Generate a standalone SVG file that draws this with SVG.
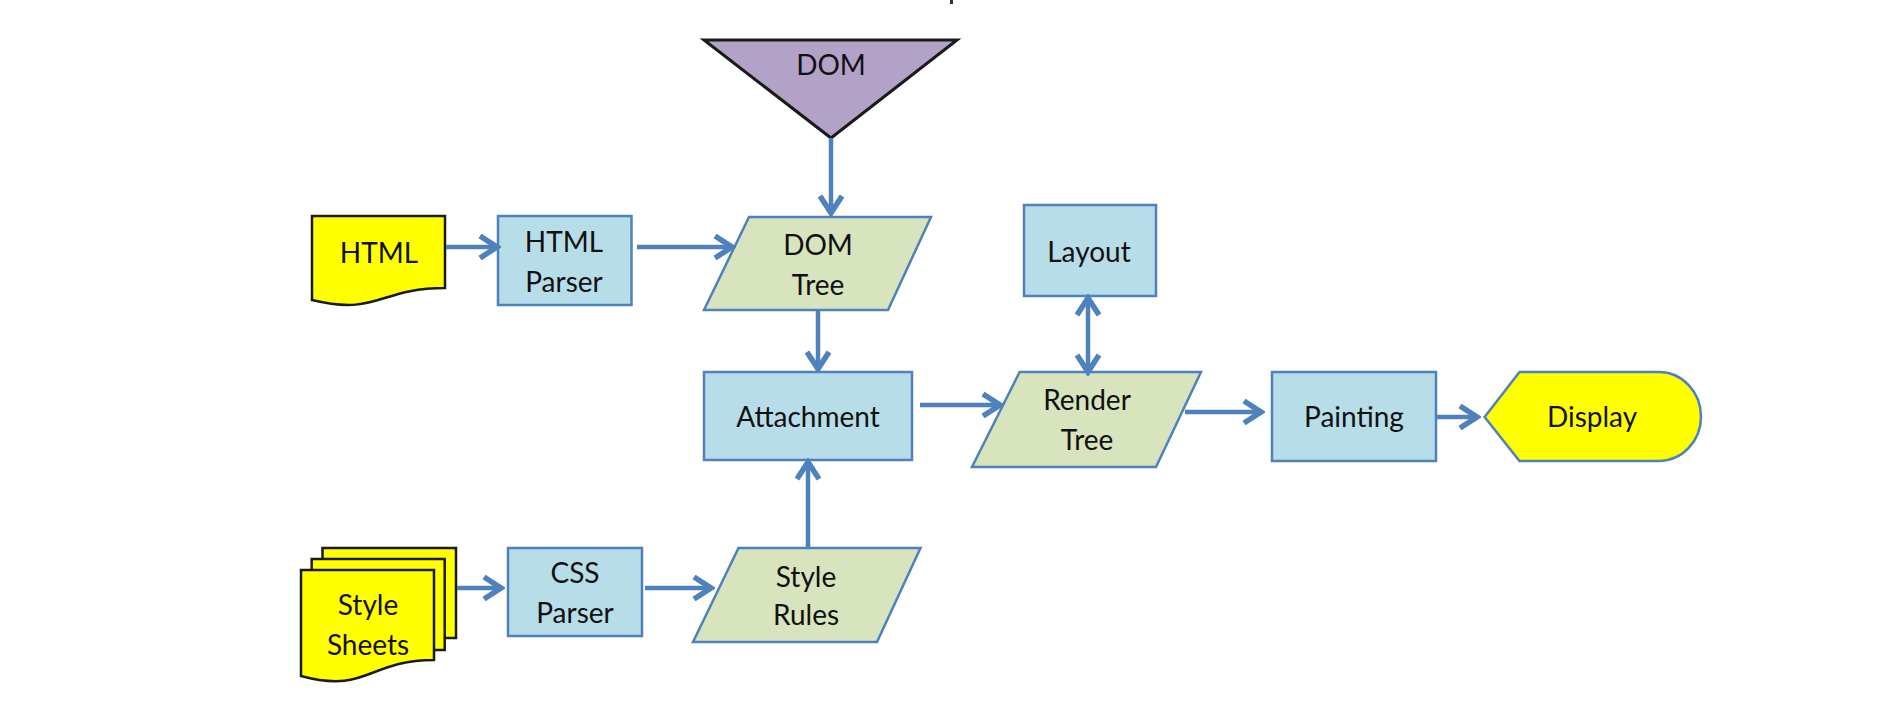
<svg xmlns="http://www.w3.org/2000/svg" width="1904" height="714" viewBox="0 0 1904 714">
<style>
.blue{fill:#b7dde8;stroke:#4f81bd;stroke-width:2.5}
.green{fill:#d7e4bd;stroke:#4f81bd;stroke-width:2.5}
.yellow{fill:#ffff00;stroke:#1a1a1a;stroke-width:2.5}
.yellowb{fill:#ffff00;stroke:#4f81bd;stroke-width:2.5}
.purple{fill:#b3a2c7;stroke:#1a1a1a;stroke-width:3}
.lbl{font-family:Lato,"Open Sans","Liberation Sans",sans-serif;font-size:28px;fill:#111111;text-anchor:middle}
.conn{fill:none;stroke:#4f81bd;stroke-width:4.5}
</style>
<defs>
<marker id="ah" viewBox="0 0 26 26" refX="22" refY="13" markerWidth="26" markerHeight="26" markerUnits="userSpaceOnUse" orient="auto-start-reverse">
<path d="M5,2 L22,13 L5,24" fill="none" stroke="#4f81bd" stroke-width="5.5" stroke-linejoin="miter"/>
</marker>
</defs>
<rect width="1904" height="714" fill="#ffffff"/>
<rect x="950" y="0" width="3" height="4" fill="#333333"/>

<g id="dom">
<path class="purple" d="M704,40 L957,40 L831,138 Z"/>
<text class="lbl" x="831" y="75">DOM</text>
</g>
<g id="html">
<path class="yellow" d="M312,216 H445 V288 C378.5,288 378.5,316 312,300 Z"/>
<text class="lbl" x="379" y="263">HTML</text>
</g>
<g id="html-parser">
<rect class="blue" x="498" y="216" width="133.5" height="89"/>
<text class="lbl" x="564" y="252">HTML</text>
<text class="lbl" x="564" y="292">Parser</text>
</g>
<g id="dom-tree">
<path class="green" d="M749,217 L931,217 L888,310 L704,310 Z"/>
<text class="lbl" x="818" y="255">DOM</text>
<text class="lbl" x="818" y="295">Tree</text>
</g>
<g id="attachment">
<rect class="blue" x="704" y="372" width="208" height="88"/>
<text class="lbl" x="808" y="427">Attachment</text>
</g>
<g id="style-sheets">
<rect class="yellow" x="322.5" y="548" width="133.5" height="90"/>
<rect class="yellow" x="311.7" y="559" width="133" height="91"/>
<path class="yellow" d="M301,570 H434 V660 C367.5,660 367.5,694 301,676 Z"/>
<text class="lbl" x="368" y="615">Style</text>
<text class="lbl" x="368" y="655">Sheets</text>
</g>
<g id="css-parser">
<rect class="blue" x="508" y="548" width="134" height="88"/>
<text class="lbl" x="575" y="583">CSS</text>
<text class="lbl" x="575" y="623">Parser</text>
</g>
<g id="style-rules">
<path class="green" d="M738.5,548 L920.5,548 L877,642 L693,642 Z"/>
<text class="lbl" x="806" y="587">Style</text>
<text class="lbl" x="806" y="625">Rules</text>
</g>
<g id="layout">
<rect class="blue" x="1024" y="205" width="132" height="91"/>
<text class="lbl" x="1089" y="262">Layout</text>
</g>
<g id="render-tree">
<path class="green" d="M1019.6,372 L1201,372 L1156,467 L972,467 Z"/>
<text class="lbl" x="1087" y="410">Render</text>
<text class="lbl" x="1087" y="450">Tree</text>
</g>
<g id="painting">
<rect class="blue" x="1272" y="372" width="164" height="89"/>
<text class="lbl" x="1354" y="427">Painting</text>
</g>
<g id="display">
<path class="yellowb" d="M1484.6,417 L1519.5,372 H1659 A42,44.5 0 0 1 1659,461 H1519.5 Z"/>
<text class="lbl" x="1592" y="427">Display</text>
</g>

<g id="connectors">
<path class="conn" d="M831,138 V213" marker-end="url(#ah)"/>
<path class="conn" d="M446,247 H497" marker-end="url(#ah)"/>
<path class="conn" d="M637,247 H732" marker-end="url(#ah)"/>
<path class="conn" d="M818,310 V369" marker-end="url(#ah)"/>
<path class="conn" d="M808,548 V462" marker-end="url(#ah)"/>
<path class="conn" d="M920,405 H1000" marker-end="url(#ah)"/>
<path class="conn" d="M1088,298 V372" marker-start="url(#ah)" marker-end="url(#ah)"/>
<path class="conn" d="M1185,412 H1261" marker-end="url(#ah)"/>
<path class="conn" d="M1437,417 H1477" marker-end="url(#ah)"/>
<path class="conn" d="M645,588 H711" marker-end="url(#ah)"/>
<path class="conn" d="M457,588 H501" marker-end="url(#ah)"/>
</g>
</svg>
